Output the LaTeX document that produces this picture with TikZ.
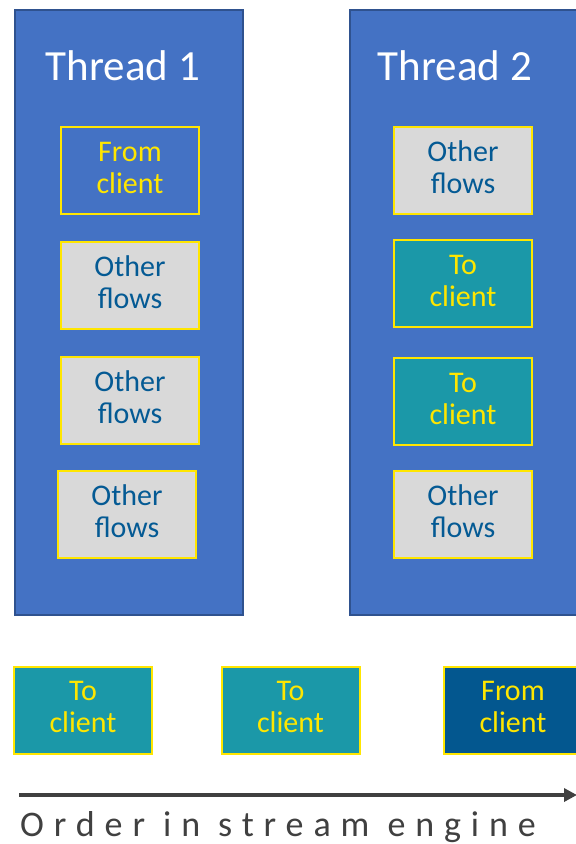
\documentclass[tikz,border=0pt]{standalone}
\usepackage{fontspec}
\setmainfont{Carlito}
\usetikzlibrary{arrows.meta}
\definecolor{threadfill}{HTML}{4472C4}
\definecolor{threadedge}{HTML}{2F528F}
\definecolor{ylw}{HTML}{FFE600}
\definecolor{grayfill}{HTML}{D9D9D9}
\definecolor{navytext}{HTML}{045A94}
\definecolor{tealbox}{HTML}{1B98A8}
\definecolor{fromfill}{HTML}{03578F}
\definecolor{arrowgray}{HTML}{404040}
\newcommand\twoline[2]{#1\\#2\rule[-6pt]{0pt}{0pt}}
\tikzset{
  threadbox/.style={draw=threadedge, line width=1.5pt, fill=threadfill, anchor=north west, inner sep=0pt},
  threadtitle/.style={text=white, font=\fontsize{43}{46}\selectfont},
  flowbox/.style={draw=ylw, line width=2pt, minimum width=138pt, minimum height=87pt, align=center, inner sep=0pt, font=\fontsize{30}{32}\selectfont},
  otherbox/.style={flowbox, fill=grayfill, text=navytext},
  tobox/.style={flowbox, fill=tealbox, text=ylw},
  fromin/.style={flowbox, fill=threadfill, text=ylw},
  fromout/.style={flowbox, fill=fromfill, text=ylw},
  orderarrow/.style={draw=arrowgray, line width=4pt, -{Triangle[length=13pt,width=13pt]}},
}
\begin{document}
\begin{tikzpicture}[x=1pt,y=-1pt]
\useasboundingbox[fill=white] (0,0) rectangle (576,844);
% threads
\node[threadbox, minimum width=228pt, minimum height=605pt] (t1) at (14,9) {};
\node[threadbox, minimum width=235pt, minimum height=605pt] (t2) at (349,9) {};
\node[threadtitle] (t1title) at (123,66) {Thread 1};
\node[threadtitle] (t2title) at (455,66) {Thread 2};
% thread 1 boxes
\node[fromin] (a1) at (130,170.5) {\twoline{From}{client}};
\node[otherbox] (a2) at (130,285) {\twoline{Other}{flows}};
\node[otherbox] (a3) at (130,400) {\twoline{Other}{flows}};
\node[otherbox] (a4) at (127,514.5) {\twoline{Other}{flows}};
% thread 2 boxes
\node[otherbox] (b1) at (463,170.5) {\twoline{Other}{flows}};
\node[tobox] (b2) at (463,283.5) {\twoline{To}{client}};
\node[tobox] (b3) at (463,401.5) {\twoline{To}{client}};
\node[otherbox] (b4) at (463,514.5) {\twoline{Other}{flows}};
% bottom row
\node[tobox] (c1) at (83,710) {\twoline{To}{client}};
\node[tobox] (c2) at (290.5,710) {\twoline{To}{client}};
\node[fromout] (c3) at (513,710) {\twoline{From}{client}};
% arrow
\coordinate (s0) at (19,795);
\coordinate (s1) at (577,795);
\draw[orderarrow] (s0) -- (s1);
\node[anchor=base west, inner sep=0pt, text=arrowgray, font=\fontsize{36}{38}\selectfont\addfontfeature{LetterSpace=27.5}] (lbl) at (20,836) {Order in stream engine};
\end{tikzpicture}
\end{document}
